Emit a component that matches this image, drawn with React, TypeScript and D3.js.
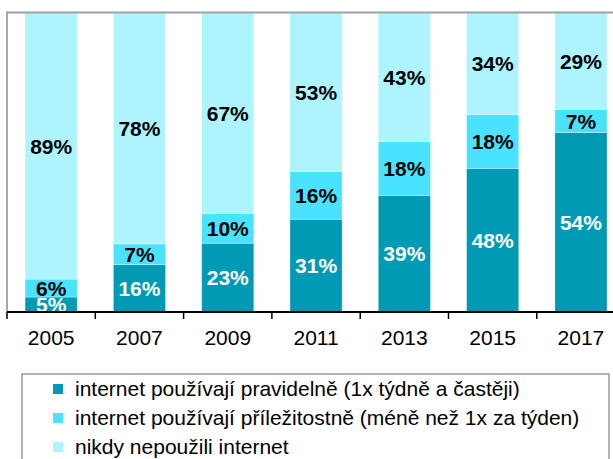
import React from "react";
import * as d3 from "d3";

const years = ["2005", "2007", "2009", "2011", "2013", "2015", "2017"];
const regular = [5, 16, 23, 31, 39, 48, 54];
const occasional = [6, 7, 10, 16, 18, 18, 7];
const never = [89, 78, 67, 53, 43, 34, 29];
const seriesNames = [
  "internet používají pravidelně (1x týdně a častěji)",
  "internet používají příležitostně (méně než 1x za týden)",
  "nikdy nepoužili internet",
];
const colors = ["#009AB4", "#4AE3FF", "#AEF4FF"];
const labelColors = ["#ffffff", "#000000", "#000000"];

export default function App() {
  const W = 613;
  const H = 459;
  const x0 = 7;
  const yTop = 13;
  const yBase = 312;
  const step = 88.3;
  const x = d3
    .scaleBand<string>()
    .domain(years)
    .range([x0, x0 + step * years.length])
    .paddingInner(0.41)
    .paddingOuter(0.205);
  const y = d3.scaleLinear().domain([0, 1]).range([yBase, yTop]);

  const rows = years.map((yr, i) => ({
    year: yr,
    s0: regular[i],
    s1: occasional[i],
    s2: never[i],
  }));
  const keys = ["s0", "s1", "s2"];
  const stack = d3
    .stack<any>()
    .keys(keys)
    .offset(d3.stackOffsetExpand);
  const layers = stack(rows);
  const font = "'Liberation Sans', Arial, sans-serif";

  return (
    <svg
      width={W}
      height={H}
      style={{ position: "absolute", left: 0, top: 0, display: "block" }}
      fontFamily={font}
    >
      <rect x={0} y={0} width={W} height={H} fill="#fff" />
      {layers.map((layer, li) => (
        <g key={li}>
          {layer.map((d, i) => {
            const bx = x(years[i])!;
            const bw = x.bandwidth();
            const ya = y(d[1]);
            const yb = y(d[0]);
            return (
              <rect
                key={i}
                x={bx}
                y={ya}
                width={bw}
                height={yb - ya}
                fill={colors[li]}
                stroke="#ffffff"
                strokeOpacity={0.35}
                strokeWidth={0.8}
              />
            );
          })}
        </g>
      ))}
      {layers.map((layer, li) => (
        <g key={"l" + li}>
          {layer.map((d, i) => {
            const bx = x(years[i])! + x.bandwidth() / 2;
            const yc = (y(d[1]) + y(d[0])) / 2;
            const v = (rows[i] as any)[keys[li]];
            return (
              <text
                key={i}
                x={bx}
                y={yc}
                dy="0.36em"
                textAnchor="middle"
                fontWeight="bold"
                fontSize={21}
                fill={labelColors[li]}
              >
                {v}%
              </text>
            );
          })}
        </g>
      ))}
      {/* frame */}
      <line x1={x0} x2={W} y1={yTop - 0.5} y2={yTop - 0.5} stroke="#a0a0a0" strokeWidth={2} />
      <line x1={x0} x2={x0} y1={yTop - 1.5} y2={yBase} stroke="#8c8c8c" strokeWidth={1.5} />
      <line x1={x0} x2={W} y1={yBase} y2={yBase} stroke="#000" strokeWidth={2} />
      {d3.range(years.length + 1).map((k) => {
        const tx = x0 + k * step;
        return (
          <line key={k} x1={tx} x2={tx} y1={yBase} y2={yBase + 7} stroke="#000" strokeWidth={1.5} />
        );
      })}
      {years.map((yr) => (
        <text
          key={yr}
          x={x(yr)! + x.bandwidth() / 2}
          y={345}
          textAnchor="middle"
          fontSize={21}
          fill="#000"
        >
          {yr}
        </text>
      ))}
      {/* legend */}
      <rect x={22} y={374} width={587} height={110} fill="none" stroke="#9a9a9a" strokeWidth={1.5} />
      {seriesNames.map((name, i) => (
        <g key={name}>
          <rect x={53} y={384 + i * 29} width={10} height={10} fill={colors[i]} />
          <text x={75} y={396 + i * 29} fontSize={21} fill="#000">
            {name}
          </text>
        </g>
      ))}
    </svg>
  );
}
